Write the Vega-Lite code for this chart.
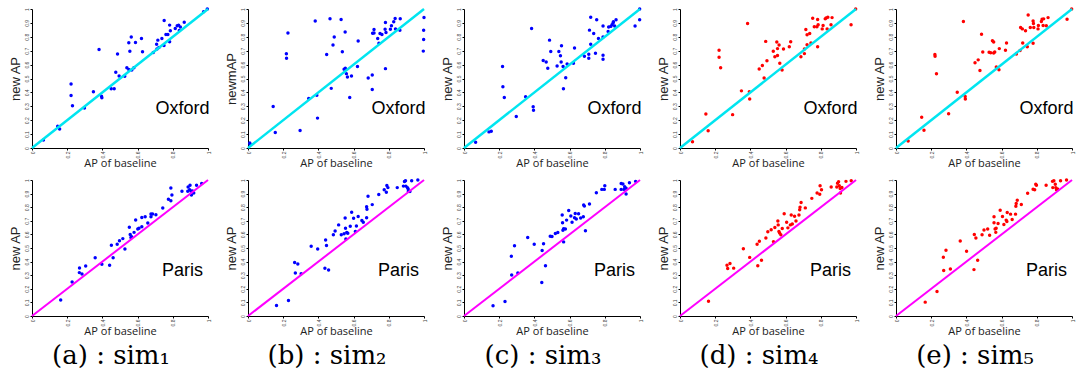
{
"$schema":"https://vega.github.io/schema/vega-lite/v6.json",
"padding":{"left":8,"top":4,"right":2,"bottom":2},
"background":"white",
"datasets":{
"diag":[{"x":0,"y":0},{"x":1,"y":1}],
"lO":[{"t":"Oxford"}],
"lP":[{"t":"Paris"}],
"aO":[{"x":0.065,"y":0.058},{"x":0.146,"y":0.157},{"x":0.157,"y":0.137},{"x":0.222,"y":0.46},{"x":0.222,"y":0.378},{"x":0.23,"y":0.304},{"x":0.298,"y":0.287},{"x":0.349,"y":0.405},{"x":0.381,"y":0.708},{"x":0.395,"y":0.373},{"x":0.397,"y":0.361},{"x":0.45,"y":0.427},{"x":0.467,"y":0.427},{"x":0.476,"y":0.545},{"x":0.486,"y":0.677},{"x":0.495,"y":0.518},{"x":0.527,"y":0.516},{"x":0.539,"y":0.578},{"x":0.55,"y":0.757},{"x":0.556,"y":0.696},{"x":0.564,"y":0.798},{"x":0.55,"y":0.564},{"x":0.567,"y":0.561},{"x":0.579,"y":0.578},{"x":0.588,"y":0.759},{"x":0.622,"y":0.788},{"x":0.628,"y":0.692},{"x":0.689,"y":0.687},{"x":0.708,"y":0.747},{"x":0.71,"y":0.713},{"x":0.715,"y":0.776},{"x":0.721,"y":0.723},{"x":0.738,"y":0.788},{"x":0.751,"y":0.918},{"x":0.75,"y":0.737},{"x":0.761,"y":0.817},{"x":0.772,"y":0.817},{"x":0.782,"y":0.884},{"x":0.786,"y":0.843},{"x":0.782,"y":0.764},{"x":0.814,"y":0.86},{"x":0.825,"y":0.88},{"x":0.833,"y":0.884},{"x":0.843,"y":0.87},{"x":0.837,"y":0.846},{"x":0.865,"y":0.904},{"x":0.996,"y":1.0},{"x":0.975,"y":0.98}],
"aP":[{"x":0.163,"y":0.118},{"x":0.228,"y":0.25},{"x":0.27,"y":0.353},{"x":0.269,"y":0.319},{"x":0.284,"y":0.309},{"x":0.305,"y":0.368},{"x":0.359,"y":0.429},{"x":0.397,"y":0.38},{"x":0.441,"y":0.373},{"x":0.451,"y":0.52},{"x":0.461,"y":0.429},{"x":0.484,"y":0.527},{"x":0.497,"y":0.554},{"x":0.516,"y":0.569},{"x":0.528,"y":0.493},{"x":0.553,"y":0.652},{"x":0.558,"y":0.6},{"x":0.562,"y":0.578},{"x":0.566,"y":0.583},{"x":0.58,"y":0.615},{"x":0.589,"y":0.706},{"x":0.601,"y":0.64},{"x":0.608,"y":0.645},{"x":0.624,"y":0.657},{"x":0.624,"y":0.725},{"x":0.643,"y":0.73},{"x":0.658,"y":0.684},{"x":0.676,"y":0.75},{"x":0.676,"y":0.73},{"x":0.685,"y":0.75},{"x":0.704,"y":0.745},{"x":0.743,"y":0.794},{"x":0.775,"y":0.858},{"x":0.789,"y":0.848},{"x":0.789,"y":0.941},{"x":0.795,"y":0.89},{"x":0.852,"y":0.917},{"x":0.885,"y":0.917},{"x":0.887,"y":0.949},{"x":0.898,"y":0.961},{"x":0.904,"y":0.917},{"x":0.912,"y":0.919},{"x":0.906,"y":0.89},{"x":0.919,"y":0.904},{"x":0.935,"y":0.961},{"x":0.964,"y":0.975},{"x":0.896,"y":0.929}],
"bO":[{"x":0.01,"y":0.036},{"x":0.012,"y":0.027},{"x":0.143,"y":0.298},{"x":0.155,"y":0.111},{"x":0.218,"y":0.678},{"x":0.219,"y":0.646},{"x":0.227,"y":0.828},{"x":0.296,"y":0.126},{"x":0.345,"y":0.356},{"x":0.382,"y":0.913},{"x":0.391,"y":0.38},{"x":0.395,"y":0.215},{"x":0.447,"y":0.673},{"x":0.466,"y":0.93},{"x":0.473,"y":0.429},{"x":0.483,"y":0.741},{"x":0.49,"y":0.799},{"x":0.529,"y":0.925},{"x":0.536,"y":0.692},{"x":0.546,"y":0.567},{"x":0.553,"y":0.574},{"x":0.552,"y":0.835},{"x":0.559,"y":0.535},{"x":0.565,"y":0.511},{"x":0.578,"y":0.363},{"x":0.588,"y":0.518},{"x":0.622,"y":0.586},{"x":0.626,"y":0.77},{"x":0.683,"y":0.504},{"x":0.706,"y":0.525},{"x":0.706,"y":0.421},{"x":0.708,"y":0.826},{"x":0.716,"y":0.852},{"x":0.716,"y":0.828},{"x":0.737,"y":0.787},{"x":0.744,"y":0.753},{"x":0.75,"y":0.823},{"x":0.761,"y":0.816},{"x":0.779,"y":0.855},{"x":0.784,"y":0.831},{"x":0.781,"y":0.903},{"x":0.781,"y":0.571},{"x":0.809,"y":0.855},{"x":0.815,"y":0.879},{"x":0.828,"y":0.908},{"x":0.836,"y":0.932},{"x":0.838,"y":0.857},{"x":0.863,"y":0.847},{"x":0.865,"y":0.93},{"x":1.0,"y":0.939},{"x":0.998,"y":0.847},{"x":0.998,"y":0.78},{"x":0.996,"y":0.697}],
"bP":[{"x":0.162,"y":0.077},{"x":0.23,"y":0.114},{"x":0.265,"y":0.394},{"x":0.283,"y":0.383},{"x":0.269,"y":0.316},{"x":0.302,"y":0.311},{"x":0.359,"y":0.513},{"x":0.396,"y":0.492},{"x":0.437,"y":0.351},{"x":0.458,"y":0.338},{"x":0.441,"y":0.559},{"x":0.446,"y":0.519},{"x":0.485,"y":0.598},{"x":0.495,"y":0.625},{"x":0.515,"y":0.67},{"x":0.53,"y":0.598},{"x":0.546,"y":0.604},{"x":0.552,"y":0.721},{"x":0.554,"y":0.646},{"x":0.556,"y":0.566},{"x":0.561,"y":0.614},{"x":0.567,"y":0.609},{"x":0.581,"y":0.66},{"x":0.589,"y":0.763},{"x":0.6,"y":0.718},{"x":0.61,"y":0.622},{"x":0.616,"y":0.662},{"x":0.626,"y":0.731},{"x":0.647,"y":0.702},{"x":0.655,"y":0.689},{"x":0.674,"y":0.723},{"x":0.674,"y":0.803},{"x":0.676,"y":0.785},{"x":0.682,"y":0.88},{"x":0.706,"y":0.819},{"x":0.743,"y":0.894},{"x":0.774,"y":0.928},{"x":0.789,"y":0.96},{"x":0.786,"y":0.91},{"x":0.795,"y":0.944},{"x":0.848,"y":0.944},{"x":0.883,"y":0.955},{"x":0.889,"y":0.989},{"x":0.895,"y":0.995},{"x":0.897,"y":0.955},{"x":0.906,"y":0.944},{"x":0.91,"y":0.934},{"x":0.911,"y":0.918},{"x":0.92,"y":0.915},{"x":0.93,"y":0.995},{"x":0.965,"y":1.0}],
"cO":[{"x":0.066,"y":0.041},{"x":0.142,"y":0.116},{"x":0.155,"y":0.12},{"x":0.219,"y":0.586},{"x":0.221,"y":0.441},{"x":0.229,"y":0.364},{"x":0.297,"y":0.227},{"x":0.35,"y":0.369},{"x":0.384,"y":0.86},{"x":0.393,"y":0.296},{"x":0.395,"y":0.272},{"x":0.45,"y":0.629},{"x":0.467,"y":0.619},{"x":0.476,"y":0.573},{"x":0.486,"y":0.776},{"x":0.493,"y":0.694},{"x":0.529,"y":0.59},{"x":0.539,"y":0.694},{"x":0.548,"y":0.663},{"x":0.552,"y":0.619},{"x":0.554,"y":0.735},{"x":0.563,"y":0.586},{"x":0.565,"y":0.427},{"x":0.578,"y":0.506},{"x":0.586,"y":0.605},{"x":0.622,"y":0.61},{"x":0.628,"y":0.72},{"x":0.684,"y":0.66},{"x":0.709,"y":0.675},{"x":0.709,"y":0.646},{"x":0.713,"y":0.848},{"x":0.72,"y":0.94},{"x":0.72,"y":0.747},{"x":0.737,"y":0.824},{"x":0.747,"y":0.682},{"x":0.754,"y":0.923},{"x":0.764,"y":0.788},{"x":0.79,"y":0.877},{"x":0.79,"y":0.798},{"x":0.79,"y":0.667},{"x":0.79,"y":0.639},{"x":0.819,"y":0.839},{"x":0.822,"y":0.87},{"x":0.834,"y":0.875},{"x":0.841,"y":0.887},{"x":0.847,"y":0.899},{"x":0.849,"y":0.908},{"x":0.856,"y":0.877},{"x":0.864,"y":0.923},{"x":0.972,"y":0.877},{"x":0.998,"y":0.923},{"x":0.998,"y":1.0}],
"cP":[{"x":0.165,"y":0.076},{"x":0.233,"y":0.106},{"x":0.269,"y":0.44},{"x":0.287,"y":0.516},{"x":0.271,"y":0.302},{"x":0.306,"y":0.317},{"x":0.362,"y":0.577},{"x":0.399,"y":0.528},{"x":0.442,"y":0.246},{"x":0.444,"y":0.482},{"x":0.452,"y":0.531},{"x":0.463,"y":0.369},{"x":0.49,"y":0.587},{"x":0.5,"y":0.585},{"x":0.519,"y":0.607},{"x":0.533,"y":0.614},{"x":0.558,"y":0.742},{"x":0.56,"y":0.686},{"x":0.562,"y":0.631},{"x":0.566,"y":0.641},{"x":0.566,"y":0.545},{"x":0.576,"y":0.639},{"x":0.583,"y":0.705},{"x":0.595,"y":0.776},{"x":0.607,"y":0.735},{"x":0.614,"y":0.69},{"x":0.628,"y":0.722},{"x":0.632,"y":0.754},{"x":0.638,"y":0.713},{"x":0.651,"y":0.752},{"x":0.663,"y":0.72},{"x":0.678,"y":0.73},{"x":0.68,"y":0.816},{"x":0.684,"y":0.808},{"x":0.69,"y":0.627},{"x":0.713,"y":0.823},{"x":0.752,"y":0.907},{"x":0.783,"y":0.931},{"x":0.797,"y":0.931},{"x":0.8,"y":0.958},{"x":0.859,"y":0.931},{"x":0.893,"y":0.975},{"x":0.903,"y":0.97},{"x":0.893,"y":0.931},{"x":0.913,"y":0.951},{"x":0.921,"y":0.939},{"x":0.921,"y":0.897},{"x":0.909,"y":0.931},{"x":0.94,"y":0.98},{"x":0.975,"y":0.99}],
"dO":[{"x":0.071,"y":0.045},{"x":0.147,"y":0.245},{"x":0.16,"y":0.124},{"x":0.222,"y":0.703},{"x":0.222,"y":0.653},{"x":0.231,"y":0.577},{"x":0.299,"y":0.24},{"x":0.349,"y":0.411},{"x":0.384,"y":0.895},{"x":0.394,"y":0.404},{"x":0.396,"y":0.352},{"x":0.45,"y":0.568},{"x":0.468,"y":0.594},{"x":0.478,"y":0.504},{"x":0.487,"y":0.767},{"x":0.494,"y":0.627},{"x":0.53,"y":0.696},{"x":0.539,"y":0.656},{"x":0.55,"y":0.762},{"x":0.554,"y":0.715},{"x":0.554,"y":0.665},{"x":0.563,"y":0.741},{"x":0.567,"y":0.61},{"x":0.58,"y":0.561},{"x":0.588,"y":0.713},{"x":0.621,"y":0.729},{"x":0.629,"y":0.765},{"x":0.687,"y":0.656},{"x":0.707,"y":0.679},{"x":0.707,"y":0.713},{"x":0.715,"y":0.853},{"x":0.722,"y":0.743},{"x":0.722,"y":0.815},{"x":0.737,"y":0.824},{"x":0.744,"y":0.755},{"x":0.754,"y":0.934},{"x":0.763,"y":0.872},{"x":0.778,"y":0.872},{"x":0.782,"y":0.924},{"x":0.782,"y":0.729},{"x":0.785,"y":0.886},{"x":0.808,"y":0.857},{"x":0.813,"y":0.881},{"x":0.825,"y":0.929},{"x":0.83,"y":0.936},{"x":0.836,"y":0.857},{"x":0.84,"y":0.941},{"x":0.858,"y":0.886},{"x":0.864,"y":0.938},{"x":0.972,"y":0.886},{"x":0.998,"y":1.0}],
"dP":[{"x":0.162,"y":0.108},{"x":0.267,"y":0.373},{"x":0.271,"y":0.349},{"x":0.284,"y":0.386},{"x":0.305,"y":0.352},{"x":0.36,"y":0.494},{"x":0.396,"y":0.431},{"x":0.438,"y":0.528},{"x":0.442,"y":0.369},{"x":0.451,"y":0.549},{"x":0.463,"y":0.41},{"x":0.488,"y":0.573},{"x":0.499,"y":0.619},{"x":0.518,"y":0.634},{"x":0.531,"y":0.547},{"x":0.539,"y":0.651},{"x":0.556,"y":0.699},{"x":0.558,"y":0.67},{"x":0.562,"y":0.622},{"x":0.566,"y":0.61},{"x":0.573,"y":0.598},{"x":0.581,"y":0.643},{"x":0.592,"y":0.752},{"x":0.606,"y":0.689},{"x":0.613,"y":0.648},{"x":0.627,"y":0.67},{"x":0.632,"y":0.742},{"x":0.638,"y":0.677},{"x":0.651,"y":0.733},{"x":0.659,"y":0.699},{"x":0.676,"y":0.742},{"x":0.68,"y":0.781},{"x":0.682,"y":0.8},{"x":0.688,"y":0.834},{"x":0.712,"y":0.795},{"x":0.749,"y":0.865},{"x":0.779,"y":0.904},{"x":0.794,"y":0.896},{"x":0.796,"y":0.957},{"x":0.804,"y":0.928},{"x":0.859,"y":0.949},{"x":0.895,"y":0.976},{"x":0.901,"y":0.988},{"x":0.891,"y":0.949},{"x":0.905,"y":0.957},{"x":0.91,"y":0.937},{"x":0.912,"y":0.904},{"x":0.92,"y":0.945},{"x":0.943,"y":0.99},{"x":0.973,"y":0.995}],
"eO":[{"x":0.069,"y":0.05},{"x":0.146,"y":0.221},{"x":0.159,"y":0.128},{"x":0.221,"y":0.672},{"x":0.222,"y":0.66},{"x":0.23,"y":0.534},{"x":0.299,"y":0.247},{"x":0.348,"y":0.401},{"x":0.383,"y":0.91},{"x":0.393,"y":0.371},{"x":0.394,"y":0.352},{"x":0.449,"y":0.613},{"x":0.467,"y":0.634},{"x":0.477,"y":0.558},{"x":0.486,"y":0.819},{"x":0.493,"y":0.691},{"x":0.529,"y":0.689},{"x":0.538,"y":0.686},{"x":0.548,"y":0.772},{"x":0.555,"y":0.762},{"x":0.555,"y":0.684},{"x":0.561,"y":0.691},{"x":0.57,"y":0.582},{"x":0.587,"y":0.715},{"x":0.585,"y":0.563},{"x":0.622,"y":0.703},{"x":0.628,"y":0.755},{"x":0.684,"y":0.677},{"x":0.705,"y":0.701},{"x":0.708,"y":0.867},{"x":0.718,"y":0.857},{"x":0.72,"y":0.755},{"x":0.736,"y":0.843},{"x":0.746,"y":0.729},{"x":0.751,"y":0.957},{"x":0.763,"y":0.867},{"x":0.779,"y":0.914},{"x":0.781,"y":0.895},{"x":0.783,"y":0.867},{"x":0.779,"y":0.753},{"x":0.807,"y":0.857},{"x":0.809,"y":0.881},{"x":0.826,"y":0.91},{"x":0.83,"y":0.926},{"x":0.836,"y":0.881},{"x":0.839,"y":0.929},{"x":0.854,"y":0.879},{"x":0.864,"y":0.938},{"x":0.972,"y":0.926},{"x":0.998,"y":1.0}],
"eP":[{"x":0.166,"y":0.102},{"x":0.233,"y":0.18},{"x":0.269,"y":0.432},{"x":0.284,"y":0.483},{"x":0.271,"y":0.334},{"x":0.309,"y":0.346},{"x":0.365,"y":0.551},{"x":0.401,"y":0.476},{"x":0.443,"y":0.341},{"x":0.445,"y":0.6},{"x":0.454,"y":0.573},{"x":0.464,"y":0.41},{"x":0.489,"y":0.598},{"x":0.5,"y":0.632},{"x":0.521,"y":0.639},{"x":0.532,"y":0.593},{"x":0.557,"y":0.729},{"x":0.557,"y":0.685},{"x":0.563,"y":0.639},{"x":0.567,"y":0.615},{"x":0.569,"y":0.646},{"x":0.58,"y":0.68},{"x":0.592,"y":0.778},{"x":0.605,"y":0.732},{"x":0.613,"y":0.673},{"x":0.626,"y":0.705},{"x":0.632,"y":0.761},{"x":0.63,"y":0.695},{"x":0.651,"y":0.749},{"x":0.66,"y":0.71},{"x":0.679,"y":0.749},{"x":0.681,"y":0.807},{"x":0.683,"y":0.827},{"x":0.689,"y":0.851},{"x":0.712,"y":0.82},{"x":0.748,"y":0.902},{"x":0.779,"y":0.932},{"x":0.794,"y":0.968},{"x":0.798,"y":0.961},{"x":0.788,"y":0.929},{"x":0.853,"y":0.961},{"x":0.889,"y":0.99},{"x":0.897,"y":0.995},{"x":0.891,"y":0.944},{"x":0.905,"y":0.968},{"x":0.908,"y":0.944},{"x":0.912,"y":0.929},{"x":0.918,"y":0.934},{"x":0.935,"y":0.995},{"x":0.969,"y":1.0}]
},
"hconcat":[
{"vconcat":[
 {"width":176,"height":139,"layer":[
  {"encoding":{"x":{"field":"x","type":"quantitative","scale":{"domain":[0,1],"nice":false},"axis":{"title":"AP of baseline","values":[0,0.2,0.4,0.6,0.8,1],"format":"~g"}},"y":{"field":"y","type":"quantitative","scale":{"domain":[0,1],"nice":false},"axis":{"title":"new AP","values":[0,0.1,0.2,0.3,0.4,0.5,0.6,0.7,0.8,0.9,1],"format":"~g"}}},
   "layer":[{"data":{"name":"aO"},"mark":{"type":"circle","size":12,"color":"#0000FF","opacity":1}},{"data":{"name":"diag"},"mark":{"type":"line","color":"#00E5F0","strokeWidth":2.5}}]},
  {"data":{"name":"lO"},"mark":{"type":"text","font":"Liberation Sans","fontSize":18,"color":"#000"},"encoding":{"x":{"datum":0.855,"type":"quantitative","axis":{"title":"AP of baseline","values":[0,0.2,0.4,0.6,0.8,1],"format":"~g"}},"y":{"datum":0.28,"type":"quantitative","axis":{"title":"new AP","values":[0,0.1,0.2,0.3,0.4,0.5,0.6,0.7,0.8,0.9,1],"format":"~g"}},"text":{"field":"t","type":"nominal"}}}]},
 {"width":176,"height":136,"layer":[
  {"encoding":{"x":{"field":"x","type":"quantitative","scale":{"domain":[0,1],"nice":false},"axis":{"title":"AP of baseline","values":[0,0.2,0.4,0.6,0.8,1],"format":"~g"}},"y":{"field":"y","type":"quantitative","scale":{"domain":[0,1],"nice":false},"axis":{"title":"new AP","values":[0,0.1,0.2,0.3,0.4,0.5,0.6,0.7,0.8,0.9,1],"format":"~g"}}},
   "layer":[{"data":{"name":"aP"},"mark":{"type":"circle","size":12,"color":"#0000FF","opacity":1}},{"data":{"name":"diag"},"mark":{"type":"line","color":"#FF00FF","strokeWidth":2}}]},
  {"data":{"name":"lP"},"mark":{"type":"text","font":"Liberation Sans","fontSize":18,"color":"#000"},"encoding":{"x":{"datum":0.855,"type":"quantitative","axis":{"title":"AP of baseline","values":[0,0.2,0.4,0.6,0.8,1],"format":"~g"}},"y":{"datum":0.33,"type":"quantitative","axis":{"title":"new AP","values":[0,0.1,0.2,0.3,0.4,0.5,0.6,0.7,0.8,0.9,1],"format":"~g"}},"text":{"field":"t","type":"nominal"}}}]}
 ],"spacing":32,"bounds":"flush","title":{"text":"(a) : sim₁","orient":"bottom"}},
{"vconcat":[
 {"width":176,"height":139,"layer":[
  {"encoding":{"x":{"field":"x","type":"quantitative","scale":{"domain":[0,1],"nice":false},"axis":{"title":"AP of baseline","values":[0,0.2,0.4,0.6,0.8,1],"format":"~g"}},"y":{"field":"y","type":"quantitative","scale":{"domain":[0,1],"nice":false},"axis":{"title":"newmAP","values":[0,0.1,0.2,0.3,0.4,0.5,0.6,0.7,0.8,0.9,1],"format":"~g"}}},
   "layer":[{"data":{"name":"bO"},"mark":{"type":"circle","size":12,"color":"#0000FF","opacity":1}},{"data":{"name":"diag"},"mark":{"type":"line","color":"#00E5F0","strokeWidth":2.5}}]},
  {"data":{"name":"lO"},"mark":{"type":"text","font":"Liberation Sans","fontSize":18,"color":"#000"},"encoding":{"x":{"datum":0.855,"type":"quantitative","axis":{"title":"AP of baseline","values":[0,0.2,0.4,0.6,0.8,1],"format":"~g"}},"y":{"datum":0.28,"type":"quantitative","axis":{"title":"newmAP","values":[0,0.1,0.2,0.3,0.4,0.5,0.6,0.7,0.8,0.9,1],"format":"~g"}},"text":{"field":"t","type":"nominal"}}}]},
 {"width":176,"height":136,"layer":[
  {"encoding":{"x":{"field":"x","type":"quantitative","scale":{"domain":[0,1],"nice":false},"axis":{"title":"AP of baseline","values":[0,0.2,0.4,0.6,0.8,1],"format":"~g"}},"y":{"field":"y","type":"quantitative","scale":{"domain":[0,1],"nice":false},"axis":{"title":"new AP","values":[0,0.1,0.2,0.3,0.4,0.5,0.6,0.7,0.8,0.9,1],"format":"~g"}}},
   "layer":[{"data":{"name":"bP"},"mark":{"type":"circle","size":12,"color":"#0000FF","opacity":1}},{"data":{"name":"diag"},"mark":{"type":"line","color":"#FF00FF","strokeWidth":2}}]},
  {"data":{"name":"lP"},"mark":{"type":"text","font":"Liberation Sans","fontSize":18,"color":"#000"},"encoding":{"x":{"datum":0.855,"type":"quantitative","axis":{"title":"AP of baseline","values":[0,0.2,0.4,0.6,0.8,1],"format":"~g"}},"y":{"datum":0.33,"type":"quantitative","axis":{"title":"new AP","values":[0,0.1,0.2,0.3,0.4,0.5,0.6,0.7,0.8,0.9,1],"format":"~g"}},"text":{"field":"t","type":"nominal"}}}]}
 ],"spacing":32,"bounds":"flush","title":{"text":"(b) : sim₂","orient":"bottom"}},
{"vconcat":[
 {"width":176,"height":139,"layer":[
  {"encoding":{"x":{"field":"x","type":"quantitative","scale":{"domain":[0,1],"nice":false},"axis":{"title":"AP of baseline","values":[0,0.2,0.4,0.6,0.8,1],"format":"~g"}},"y":{"field":"y","type":"quantitative","scale":{"domain":[0,1],"nice":false},"axis":{"title":"new AP","values":[0,0.1,0.2,0.3,0.4,0.5,0.6,0.7,0.8,0.9,1],"format":"~g"}}},
   "layer":[{"data":{"name":"cO"},"mark":{"type":"circle","size":12,"color":"#0000FF","opacity":1}},{"data":{"name":"diag"},"mark":{"type":"line","color":"#00E5F0","strokeWidth":2.5}}]},
  {"data":{"name":"lO"},"mark":{"type":"text","font":"Liberation Sans","fontSize":18,"color":"#000"},"encoding":{"x":{"datum":0.855,"type":"quantitative","axis":{"title":"AP of baseline","values":[0,0.2,0.4,0.6,0.8,1],"format":"~g"}},"y":{"datum":0.28,"type":"quantitative","axis":{"title":"new AP","values":[0,0.1,0.2,0.3,0.4,0.5,0.6,0.7,0.8,0.9,1],"format":"~g"}},"text":{"field":"t","type":"nominal"}}}]},
 {"width":176,"height":136,"layer":[
  {"encoding":{"x":{"field":"x","type":"quantitative","scale":{"domain":[0,1],"nice":false},"axis":{"title":"AP of baseline","values":[0,0.2,0.4,0.6,0.8,1],"format":"~g"}},"y":{"field":"y","type":"quantitative","scale":{"domain":[0,1],"nice":false},"axis":{"title":"new AP","values":[0,0.1,0.2,0.3,0.4,0.5,0.6,0.7,0.8,0.9,1],"format":"~g"}}},
   "layer":[{"data":{"name":"cP"},"mark":{"type":"circle","size":12,"color":"#0000FF","opacity":1}},{"data":{"name":"diag"},"mark":{"type":"line","color":"#FF00FF","strokeWidth":2}}]},
  {"data":{"name":"lP"},"mark":{"type":"text","font":"Liberation Sans","fontSize":18,"color":"#000"},"encoding":{"x":{"datum":0.855,"type":"quantitative","axis":{"title":"AP of baseline","values":[0,0.2,0.4,0.6,0.8,1],"format":"~g"}},"y":{"datum":0.33,"type":"quantitative","axis":{"title":"new AP","values":[0,0.1,0.2,0.3,0.4,0.5,0.6,0.7,0.8,0.9,1],"format":"~g"}},"text":{"field":"t","type":"nominal"}}}]}
 ],"spacing":32,"bounds":"flush","title":{"text":"(c) : sim₃","orient":"bottom"}},
{"vconcat":[
 {"width":176,"height":139,"layer":[
  {"encoding":{"x":{"field":"x","type":"quantitative","scale":{"domain":[0,1],"nice":false},"axis":{"title":"AP of baseline","values":[0,0.2,0.4,0.6,0.8,1],"format":"~g"}},"y":{"field":"y","type":"quantitative","scale":{"domain":[0,1],"nice":false},"axis":{"title":"new AP","values":[0,0.1,0.2,0.3,0.4,0.5,0.6,0.7,0.8,0.9,1],"format":"~g"}}},
   "layer":[{"data":{"name":"dO"},"mark":{"type":"circle","size":12,"color":"#FF0000","opacity":1}},{"data":{"name":"diag"},"mark":{"type":"line","color":"#00E5F0","strokeWidth":2.5}}]},
  {"data":{"name":"lO"},"mark":{"type":"text","font":"Liberation Sans","fontSize":18,"color":"#000"},"encoding":{"x":{"datum":0.855,"type":"quantitative","axis":{"title":"AP of baseline","values":[0,0.2,0.4,0.6,0.8,1],"format":"~g"}},"y":{"datum":0.28,"type":"quantitative","axis":{"title":"new AP","values":[0,0.1,0.2,0.3,0.4,0.5,0.6,0.7,0.8,0.9,1],"format":"~g"}},"text":{"field":"t","type":"nominal"}}}]},
 {"width":176,"height":136,"layer":[
  {"encoding":{"x":{"field":"x","type":"quantitative","scale":{"domain":[0,1],"nice":false},"axis":{"title":"AP of baseline","values":[0,0.2,0.4,0.6,0.8,1],"format":"~g"}},"y":{"field":"y","type":"quantitative","scale":{"domain":[0,1],"nice":false},"axis":{"title":"new AP","values":[0,0.1,0.2,0.3,0.4,0.5,0.6,0.7,0.8,0.9,1],"format":"~g"}}},
   "layer":[{"data":{"name":"dP"},"mark":{"type":"circle","size":12,"color":"#FF0000","opacity":1}},{"data":{"name":"diag"},"mark":{"type":"line","color":"#FF00FF","strokeWidth":2}}]},
  {"data":{"name":"lP"},"mark":{"type":"text","font":"Liberation Sans","fontSize":18,"color":"#000"},"encoding":{"x":{"datum":0.855,"type":"quantitative","axis":{"title":"AP of baseline","values":[0,0.2,0.4,0.6,0.8,1],"format":"~g"}},"y":{"datum":0.33,"type":"quantitative","axis":{"title":"new AP","values":[0,0.1,0.2,0.3,0.4,0.5,0.6,0.7,0.8,0.9,1],"format":"~g"}},"text":{"field":"t","type":"nominal"}}}]}
 ],"spacing":32,"bounds":"flush","title":{"text":"(d) : sim₄","orient":"bottom"}},
{"vconcat":[
 {"width":176,"height":139,"layer":[
  {"encoding":{"x":{"field":"x","type":"quantitative","scale":{"domain":[0,1],"nice":false},"axis":{"title":"AP of baseline","values":[0,0.2,0.4,0.6,0.8,1],"format":"~g"}},"y":{"field":"y","type":"quantitative","scale":{"domain":[0,1],"nice":false},"axis":{"title":"new AP","values":[0,0.1,0.2,0.3,0.4,0.5,0.6,0.7,0.8,0.9,1],"format":"~g"}}},
   "layer":[{"data":{"name":"eO"},"mark":{"type":"circle","size":12,"color":"#FF0000","opacity":1}},{"data":{"name":"diag"},"mark":{"type":"line","color":"#00E5F0","strokeWidth":2.5}}]},
  {"data":{"name":"lO"},"mark":{"type":"text","font":"Liberation Sans","fontSize":18,"color":"#000"},"encoding":{"x":{"datum":0.855,"type":"quantitative","axis":{"title":"AP of baseline","values":[0,0.2,0.4,0.6,0.8,1],"format":"~g"}},"y":{"datum":0.28,"type":"quantitative","axis":{"title":"new AP","values":[0,0.1,0.2,0.3,0.4,0.5,0.6,0.7,0.8,0.9,1],"format":"~g"}},"text":{"field":"t","type":"nominal"}}}]},
 {"width":176,"height":136,"layer":[
  {"encoding":{"x":{"field":"x","type":"quantitative","scale":{"domain":[0,1],"nice":false},"axis":{"title":"AP of baseline","values":[0,0.2,0.4,0.6,0.8,1],"format":"~g"}},"y":{"field":"y","type":"quantitative","scale":{"domain":[0,1],"nice":false},"axis":{"title":"new AP","values":[0,0.1,0.2,0.3,0.4,0.5,0.6,0.7,0.8,0.9,1],"format":"~g"}}},
   "layer":[{"data":{"name":"eP"},"mark":{"type":"circle","size":12,"color":"#FF0000","opacity":1}},{"data":{"name":"diag"},"mark":{"type":"line","color":"#FF00FF","strokeWidth":2}}]},
  {"data":{"name":"lP"},"mark":{"type":"text","font":"Liberation Sans","fontSize":18,"color":"#000"},"encoding":{"x":{"datum":0.855,"type":"quantitative","axis":{"title":"AP of baseline","values":[0,0.2,0.4,0.6,0.8,1],"format":"~g"}},"y":{"datum":0.33,"type":"quantitative","axis":{"title":"new AP","values":[0,0.1,0.2,0.3,0.4,0.5,0.6,0.7,0.8,0.9,1],"format":"~g"}},"text":{"field":"t","type":"nominal"}}}]}
 ],"spacing":32,"bounds":"flush","title":{"text":"(e) : sim₅","orient":"bottom"}}
],
"spacing":11,
"config":{
 "view":{"stroke":null},
 "axis":{"grid":false,"domainColor":"#000","domainWidth":1,"tickColor":"#000","tickSize":2,"labelFontSize":5,"labelColor":"#444","labelAngle":270,"labelPadding":1,"titleFontWeight":"normal","titleColor":"#222"},
 "axisX":{"titleFont":"Open Sans","titleFontSize":11,"titlePadding":0},
 "axisY":{"titleFont":"Liberation Sans","titleFontSize":13,"titlePadding":2},
 "title":{"font":"DejaVu Serif","fontSize":26,"fontWeight":"normal","color":"#000","anchor":"middle","offset":6}
}
}
